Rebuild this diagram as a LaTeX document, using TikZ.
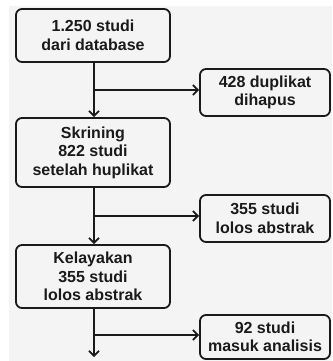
\documentclass[tikz,border=0pt]{standalone}
\usepackage{fontspec}
\setmainfont{Liberation Sans}
\usetikzlibrary{arrows.meta}
\definecolor{bg}{HTML}{F4F4F4}
\definecolor{ink}{HTML}{1A1A1A}
\tikzset{
  x=1pt,y=-1pt,
  box/.style={draw=ink,line width=1.8pt,rounded corners=6pt,fill=bg,align=center,
    inner sep=0pt,font=\fontsize{16}{18.5}\selectfont\bfseries,text=ink},
  flow/.style={draw=ink,line width=1.7pt,-{Straight Barb[length=5pt,width=10pt,line width=1.7pt]}},
}
\begin{document}
\begin{tikzpicture}
\useasboundingbox (0,0) rectangle (332,361);
\fill[white] (0,0) rectangle (332,361);
\fill[bg] (9,6) rectangle (332,361);
% main boxes
\node[box,minimum width=154pt,minimum height=53pt] (b1) at (93,35.5) {1.250 studi\\dari database};
\node[box,minimum width=154pt,minimum height=69pt] (b2) at (93,152.5) {Skrining\\822 studi\\setelah huplikat};
\node[box,minimum width=154pt,minimum height=63pt] (b3) at (93,276.5) {Kelayakan\\355 studi\\lolos abstrak};
% side boxes
\node[box,minimum width=130pt,minimum height=47pt] (s1) at (265,92.5) {428 duplikat\\dihapus};
\node[box,minimum width=130pt,minimum height=47pt] (s2) at (265,218.5) {355 studi\\lolos abstrak};
\node[box,minimum width=130pt,minimum height=44pt] (s3) at (265,337) {92 studi\\masuk analisis};
% junctions
\coordinate (j1) at (94,90);
\coordinate (j2) at (94,216);
\coordinate (j3) at (94,335);
\coordinate (end) at (94,357);
\draw[flow] (b1.south -| j1) -- (b2.north -| j1);
\draw[flow] (j1) -- (s1.west |- j1);
\draw[flow] (b2.south -| j2) -- (b3.north -| j2);
\draw[flow] (j2) -- (s2.west |- j2);
\draw[flow] (b3.south -| j3) -- (end);
\draw[flow] (j3) -- (s3.west |- j3);
\end{tikzpicture}
\end{document}
